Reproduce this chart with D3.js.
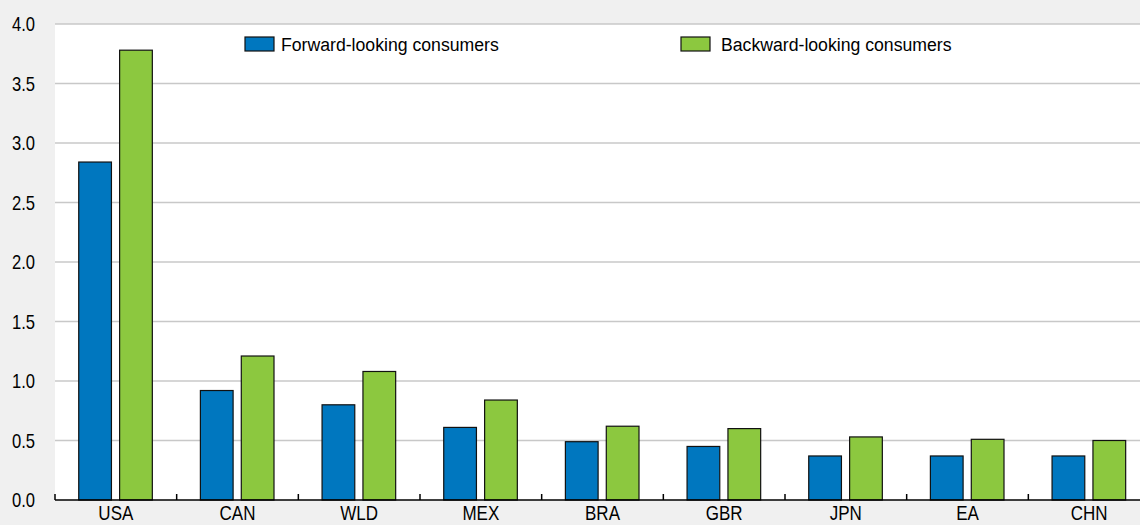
<!DOCTYPE html>
<html>
<head>
<meta charset="utf-8">
<script src="https://cdn.jsdelivr.net/npm/d3@7"></script>
<style>
  html, body { margin: 0; padding: 0; background: #f0f0f0; overflow: hidden; }
  svg text { font-family: "Liberation Sans", Arial, sans-serif; fill: #000; }
</style>
</head>
<body>
<div id="chart"></div>
<script>
// values
const countries = ["USA", "CAN", "WLD", "MEX", "BRA", "GBR", "JPN", "EA", "CHN"];
const forward = [2.84, 0.92, 0.80, 0.61, 0.49, 0.45, 0.37, 0.37, 0.37];
const backward = [3.78, 1.21, 1.08, 0.84, 0.62, 0.60, 0.53, 0.51, 0.50];
const seriesNames = ["Forward-looking consumers", "Backward-looking consumers"];
const yTicks = [0, 0.5, 1, 1.5, 2, 2.5, 3, 3.5, 4];

const width = 1140, height = 525;
const margin = { top: 24, right: -10, bottom: 25, left: 55 };
const colors = ["#0077bf", "#8cc83f"];

const data = countries.map((c, i) => ({ country: c, values: [forward[i], backward[i]] }));

const svg = d3.select("#chart")
    .append("svg")
    .attr("width", width)
    .attr("height", height);

let x = d3.scaleBand()
    .domain(countries)
    .range([margin.left, width - margin.right])
    .padding(0);

let xSub = d3.scaleBand()
    .domain([0, 1])
    .range([x.step() * 0.195, x.step() * 0.8])
    .paddingInner(0.2);

let y = d3.scaleLinear()
    .domain([0, 4])
    .range([height - margin.bottom, margin.top]);

// white plot area
svg.append("rect")
    .attr("x", margin.left)
    .attr("y", margin.top)
    .attr("width", width - margin.left)
    .attr("height", y(0) - margin.top)
    .attr("fill", "#fff");

// gridlines
svg.append("g")
    .selectAll("line")
    .data(yTicks.filter(d => d > 0))
    .join("line")
    .attr("x1", margin.left)
    .attr("x2", width)
    .attr("y1", d => y(d))
    .attr("y2", d => y(d))
    .attr("stroke", "#c8c8c8")
    .attr("stroke-width", 1.5);

// y tick labels (text in the reference is a bit squeezed sideways)
svg.append("g")
    .selectAll("text")
    .data(yTicks)
    .join("text")
    .attr("transform", d => `translate(35,${y(d) + 7}) scale(0.83,1)`)
    .attr("text-anchor", "end")
    .style("font-size", "20px")
    .text(d => d3.format(".1f")(d));

// bars
svg.append("g")
    .selectAll("g")
    .data(data)
    .join("g")
    .attr("transform", d => `translate(${x(d.country)},0)`)
    .selectAll("rect")
    .data(d => d.values.map((v, j) => ({ v, j })))
    .join("rect")
    .attr("x", d => xSub(d.j))
    .attr("y", d => y(d.v))
    .attr("width", xSub.bandwidth())
    .attr("height", d => y(0) - y(d.v))
    .attr("fill", d => colors[d.j])
    .attr("stroke", "#111")
    .attr("stroke-width", 1.2);

// x axis
const xAxis = svg.append("g")
    .attr("transform", `translate(0,${y(0)})`);

xAxis.append("line")
    .attr("x1", margin.left)
    .attr("x2", width)
    .attr("stroke", "#000")
    .attr("stroke-width", 1.5);

xAxis.selectAll(".tick")
    .data(countries)
    .join("line")
    .attr("class", "tick")
    .attr("x1", d => x(d))
    .attr("x2", d => x(d))
    .attr("y1", 0)
    .attr("y2", -6)
    .attr("stroke", "#000")
    .attr("stroke-width", 1.5);

xAxis.selectAll(".label")
    .data(countries)
    .join("text")
    .attr("class", "label")
    .attr("transform", d => `translate(${x(d) + x.bandwidth() / 2},20) scale(0.85,1)`)
    .attr("text-anchor", "middle")
    .style("font-size", "20px")
    .text(d => d);

// legend
const legendX = [245, 681];
const legend = svg.append("g")
    .selectAll("g")
    .data(seriesNames)
    .join("g")
    .attr("transform", (d, i) => `translate(${legendX[i]},37)`);

legend.append("rect")
    .attr("width", 29)
    .attr("height", 14)
    .attr("fill", (d, i) => colors[i])
    .attr("stroke", "#111")
    .attr("stroke-width", 1.2);

legend.append("text")
    .attr("transform", (d, i) => `translate(${i == 0 ? 36 : 40},14) scale(0.93,1)`)
    .style("font-size", "19px")
    .text(d => d);
</script>
</body>
</html>
